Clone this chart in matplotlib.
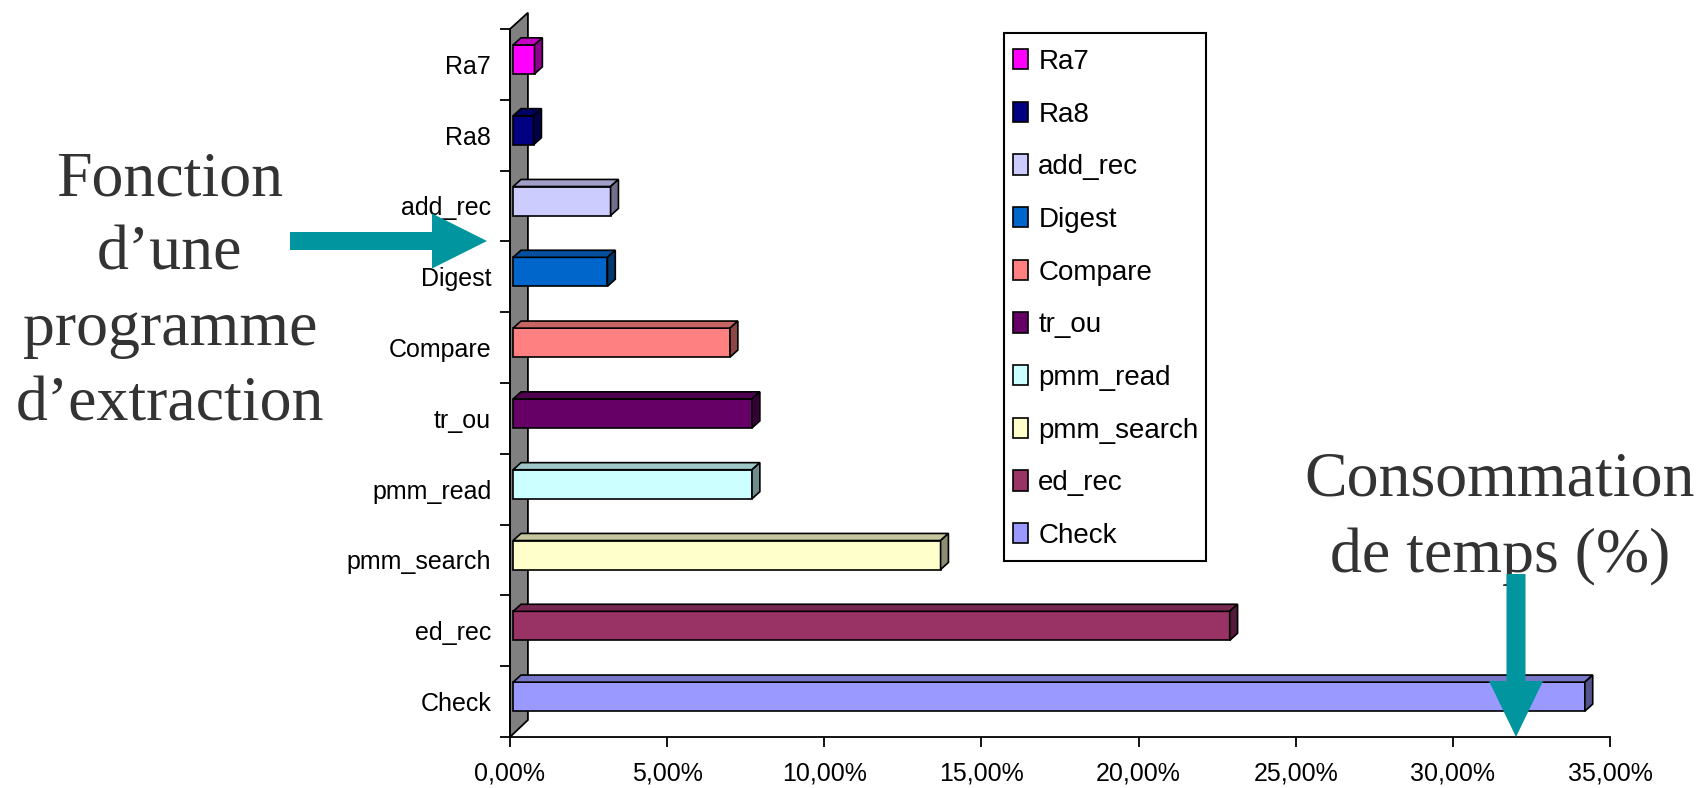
import matplotlib
matplotlib.use("Agg")
import matplotlib.pyplot as plt
import matplotlib.patches as mpatches
import matplotlib.transforms as mtransforms
import numpy as np
from matplotlib.colors import to_rgb

# données (bas -> haut)
names = ['Check', 'ed_rec', 'pmm_search', 'pmm_read', 'tr_ou',
         'Compare', 'Digest', 'add_rec', 'Ra8', 'Ra7']
values = [34.1, 22.8, 13.6, 7.6, 7.6, 6.9, 3.0, 3.1, 0.65, 0.68]
colors = ['#9999FF', '#993366', '#FFFFCC', '#CCFFFF', '#660066',
          '#FF8080', '#0066CC', '#CCCCFF', '#000080', '#FF00FF']
xticks = [0, 5, 10, 15, 20, 25, 30, 35]
xlabels = ['%.2f%%' % v for v in xticks]
xlabels = [s.replace('.', ',') for s in xlabels]

W, H = 1706, 788
TEAL = '#00959F'
SANS = 'Liberation Sans'
SERIF = 'Liberation Serif'


def shade(c, k):
    r, g, b = to_rgb(c)
    return (r * k, g * k, b * k)


fig = plt.figure(figsize=(W / 100, H / 100), dpi=100)
fig.patch.set_facecolor('white')
ax = fig.add_axes([510 / W, 1 - 737 / H, 1100 / W, 708 / H])
ax.set_xlim(0, 35)
ax.set_ylim(-0.5, 9.5)

ypos = np.arange(len(names))
bh = 0.41   # épaisseur de la face avant
off = 0.07  # les barres sont un peu au-dessus du centre (profondeur)
x0 = 0.1    # petit décalage du départ des barres devant le mur
dx, dy = 0.25, 0.10   # profondeur 3D

# mur gris à gauche
wall = mpatches.Polygon([(0, -0.5), (0.57, -0.26), (0.57, 9.73), (0, 9.5)],
                        closed=True, fc='#808080', ec='black', lw=1.3,
                        clip_on=False, zorder=1)
ax.add_patch(wall)

yb = ypos + off
ends = [x0 + v for v in values]
ax.barh(yb, values, left=x0, height=bh, color=colors, edgecolor='black',
        linewidth=1.2, zorder=3)
for y, v, c in zip(yb, ends, colors):
    top = mpatches.Polygon([(x0, y + bh / 2), (v, y + bh / 2),
                            (v + dx, y + bh / 2 + dy), (x0 + dx, y + bh / 2 + dy)],
                           closed=True, fc=shade(c, 0.78), ec='black', lw=1.2, zorder=3)
    side = mpatches.Polygon([(v, y - bh / 2), (v + dx, y - bh / 2 + dy),
                             (v + dx, y + bh / 2 + dy), (v, y + bh / 2)],
                            closed=True, fc=shade(c, 0.55), ec='black', lw=1.2, zorder=3)
    ax.add_patch(top)
    ax.add_patch(side)

for s in ['top', 'right']:
    ax.spines[s].set_visible(False)
ax.spines['left'].set_linewidth(1.3)
ax.spines['bottom'].set_linewidth(1.3)
ax.set_facecolor('none')

ax.set_yticks(np.arange(-0.5, 10, 1))
ax.set_yticklabels([])
ax.set_yticks(ypos, minor=True)
ax.set_yticklabels(names, minor=True, fontsize=18, family=SANS)
ax.tick_params(axis='y', which='major', length=7, width=1.3, direction='out')
ax.tick_params(axis='y', which='minor', length=0, pad=13.5)

ax.set_xticks(xticks)
ax.set_xticklabels(xlabels, fontsize=18, family=SANS)
ax.tick_params(axis='x', length=7.5, width=1.3, direction='out', pad=10)

# légende
px = mtransforms.Affine2D().scale(1 / W, -1 / H).translate(0, 1) + fig.transFigure
frame = mpatches.Rectangle((1004, 33), 202, 528, transform=px, fc='white',
                           ec='black', lw=1.5, zorder=5)
fig.add_artist(frame)
handles = [mpatches.Patch(fc=c, ec='black', lw=1.2, label=n)
           for n, c in zip(names[::-1], colors[::-1])]
leg = fig.legend(handles=handles, loc='upper left',
                 bbox_to_anchor=(1013 / W, 1 - 49 / H), frameon=False,
                 prop={'family': SANS, 'size': 20},
                 handlelength=0.55, handleheight=0.75, handletextpad=0.36,
                 labelspacing=0.96, borderpad=0, borderaxespad=0)
leg.set_zorder(6)

# annotations
tcol = '#333333'
for txt, ybase in zip(['Fonction', 'd\u2019une', 'programme', 'd\u2019extraction'],
                      [195, 270, 345, 420]):
    fig.text(170 / W, 1 - ybase / H, txt, ha='center', va='baseline',
             fontsize=46, family=SERIF, color=tcol)
for txt, ybase in zip(['Consommation', 'de temps (%)'], [495, 572]):
    fig.text(1500 / W, 1 - ybase / H, txt, ha='center', va='baseline',
             fontsize=46, family=SERIF, color=tcol)

arr1 = mpatches.FancyArrow(290, 241, 197, 0, width=18, head_width=55,
                           head_length=55, length_includes_head=True,
                           transform=px, color=TEAL, lw=0, zorder=7)
arr2 = mpatches.FancyArrow(1516, 574, 0, 163, width=19, head_width=54,
                           head_length=56, length_includes_head=True,
                           transform=px, color=TEAL, lw=0, zorder=7)
fig.add_artist(arr1)
fig.add_artist(arr2)

fig.savefig('out.png', dpi=100)
